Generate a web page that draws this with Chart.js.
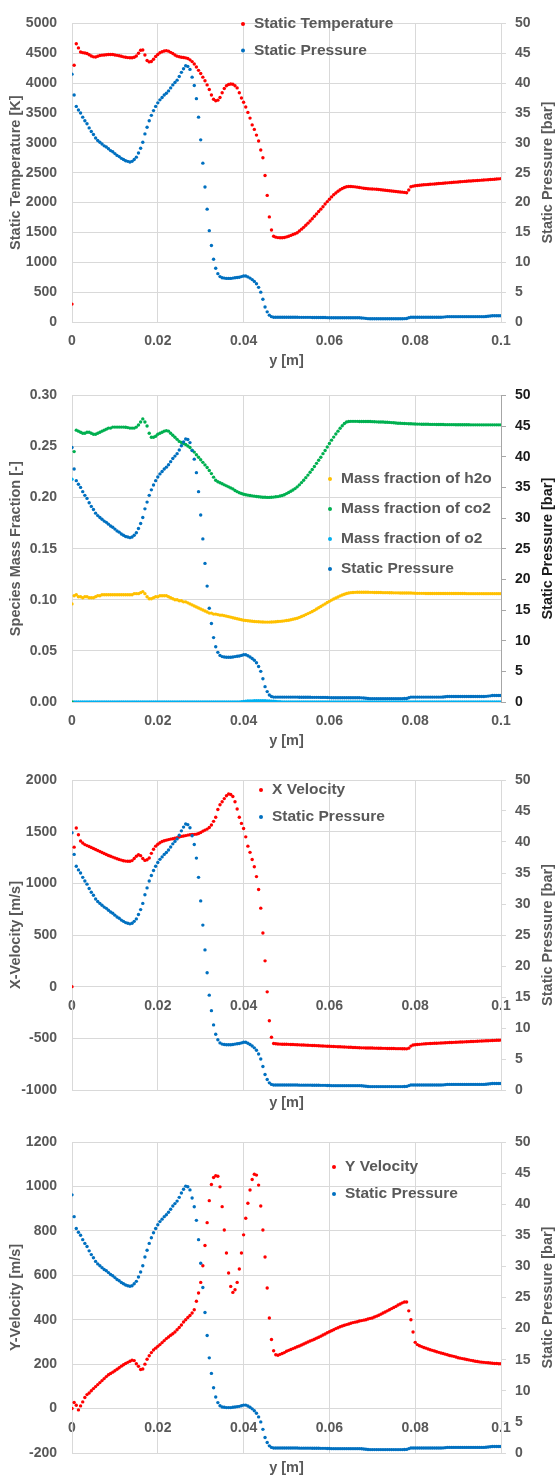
<!DOCTYPE html>
<html>
<head>
<meta charset="utf-8">
<script src="https://cdn.jsdelivr.net/npm/chart.js@4.4.0/dist/chart.umd.min.js"></script>
<style>
 body { margin: 0; background: #fff; }
 #page { position: relative; width: 556px; height: 1479px; overflow: hidden; }
 .box { position: absolute; left: 0; width: 556px; }
</style>
</head>
<body>
<div id="page">
 <div class="box" style="top:0;height:372px"><canvas id="tempChart"></canvas></div>
 <div class="box" style="top:372px;height:380px"><canvas id="speciesChart"></canvas></div>
 <div class="box" style="top:752px;height:362px"><canvas id="xVelChart"></canvas></div>
 <div class="box" style="top:1114px;height:365px"><canvas id="yVelChart"></canvas></div>
</div>
<script>
// positions across the channel [m]
var yPos = [
 0, 0.0005, 0.001, 0.0015, 0.002, 0.0025, 0.003, 0.0035, 0.004, 0.0045,
 0.005, 0.0055, 0.006, 0.0065, 0.007, 0.0075, 0.008, 0.0085, 0.009, 0.0095,
 0.01, 0.0105, 0.011, 0.0115, 0.012, 0.0125, 0.013, 0.0135, 0.014, 0.0145,
 0.015, 0.0155, 0.016, 0.0165, 0.017, 0.0175, 0.018, 0.0185, 0.019, 0.0195,
 0.02, 0.0205, 0.021, 0.0215, 0.022, 0.0225, 0.023, 0.0235, 0.024, 0.0245,
 0.025, 0.0255, 0.026, 0.0265, 0.027, 0.0275, 0.028, 0.0285, 0.029, 0.0295,
 0.03, 0.0305, 0.031, 0.0315, 0.032, 0.0325, 0.033, 0.0335, 0.034, 0.0345,
 0.035, 0.0355, 0.036, 0.0365, 0.037, 0.0375, 0.038, 0.0385, 0.039, 0.0395,
 0.04, 0.0405, 0.041, 0.0415, 0.042, 0.0425, 0.043, 0.0435, 0.044, 0.0445,
 0.045, 0.0455, 0.046, 0.0465, 0.047, 0.0475, 0.048, 0.0485, 0.049, 0.0495,
 0.05, 0.0505, 0.051, 0.0515, 0.052, 0.0525, 0.053, 0.0535, 0.054, 0.0545,
 0.055, 0.0555, 0.056, 0.0565, 0.057, 0.0575, 0.058, 0.0585, 0.059, 0.0595,
 0.06, 0.0605, 0.061, 0.0615, 0.062, 0.0625, 0.063, 0.0635, 0.064, 0.0645,
 0.065, 0.0655, 0.066, 0.0665, 0.067, 0.0675, 0.068, 0.0685, 0.069, 0.0695,
 0.07, 0.0705, 0.071, 0.0715, 0.072, 0.0725, 0.073, 0.0735, 0.074, 0.0745,
 0.075, 0.0755, 0.076, 0.0765, 0.077, 0.0775, 0.078, 0.0785, 0.079, 0.0795,
 0.08, 0.0805, 0.081, 0.0815, 0.082, 0.0825, 0.083, 0.0835, 0.084, 0.0845,
 0.085, 0.0855, 0.086, 0.0865, 0.087, 0.0875, 0.088, 0.0885, 0.089, 0.0895,
 0.09, 0.0905, 0.091, 0.0915, 0.092, 0.0925, 0.093, 0.0935, 0.094, 0.0945,
 0.095, 0.0955, 0.096, 0.0965, 0.097, 0.0975, 0.098, 0.0985, 0.099, 0.0995,
 0.1
];

// static pressure [bar], shared by all four plots
var pressure = [
 41.5, 38.0, 36.1, 35.5, 35.0, 34.3, 33.7, 33.2, 32.5, 31.9,
 31.4, 30.8, 30.4, 30.1, 29.8, 29.5, 29.3, 29.0, 28.7, 28.5,
 28.2, 27.9, 27.7, 27.4, 27.2, 27.0, 26.9, 26.8, 26.9, 27.2,
 27.6, 28.3, 29.1, 30.1, 31.5, 32.6, 33.7, 34.6, 35.4, 36.1,
 36.7, 37.2, 37.6, 38.0, 38.3, 38.7, 39.2, 39.7, 40.1, 40.5,
 41.1, 41.8, 42.4, 42.9, 42.8, 42.3, 41.0, 39.6, 37.4, 34.3,
 30.5, 26.6, 22.6, 18.9, 15.3, 12.8, 10.5, 9.0, 8.1, 7.6,
 7.4, 7.35, 7.3, 7.3, 7.3, 7.35, 7.4, 7.45, 7.5, 7.6,
 7.7, 7.7, 7.55, 7.35, 7.1, 6.8, 6.4, 5.8, 5.0, 3.8,
 2.5, 1.7, 1.15, 0.9, 0.8, 0.8, 0.8, 0.8, 0.8, 0.8,
 0.8, 0.8, 0.8, 0.8, 0.8, 0.8, 0.78, 0.78, 0.78, 0.78,
 0.78, 0.78, 0.76, 0.76, 0.76, 0.76, 0.75, 0.75, 0.75, 0.73,
 0.72, 0.7, 0.7, 0.7, 0.7, 0.7, 0.7, 0.7, 0.7, 0.7,
 0.7, 0.7, 0.7, 0.7, 0.7, 0.68, 0.65, 0.6, 0.56, 0.55,
 0.55, 0.55, 0.55, 0.55, 0.55, 0.55, 0.55, 0.55, 0.55, 0.55,
 0.55, 0.55, 0.55, 0.55, 0.55, 0.56, 0.58, 0.7, 0.8, 0.8,
 0.8, 0.8, 0.8, 0.8, 0.8, 0.8, 0.8, 0.8, 0.8, 0.8,
 0.8, 0.8, 0.8, 0.82, 0.86, 0.9, 0.9, 0.9, 0.9, 0.9,
 0.9, 0.9, 0.9, 0.9, 0.9, 0.9, 0.9, 0.9, 0.9, 0.9,
 0.9, 0.9, 0.9, 0.92, 0.96, 1.0, 1.05, 1.05, 1.05, 1.05,
 1.05
];

// static temperature [K]
var temperature = [
 300, 4300, 4660, 4590, 4520, 4510, 4505, 4495, 4475, 4455,
 4440, 4438, 4450, 4462, 4468, 4472, 4476, 4479, 4480, 4478,
 4472, 4465, 4458, 4450, 4440, 4432, 4427, 4425, 4425, 4432,
 4455, 4500, 4550, 4555, 4470, 4380, 4355, 4362, 4400, 4445,
 4480, 4508, 4525, 4538, 4544, 4535, 4515, 4495, 4472, 4452,
 4442, 4432, 4428, 4422, 4412, 4390, 4360, 4320, 4270, 4214,
 4160, 4100, 4040, 3970, 3894, 3800, 3730, 3705, 3715, 3760,
 3840, 3910, 3955, 3978, 3985, 3980, 3955, 3920, 3840, 3750,
 3680, 3600, 3510, 3414, 3300, 3225, 3130, 3030, 2880, 2750,
 2454, 2120, 1760, 1540, 1437, 1421, 1413, 1410, 1410, 1415,
 1425, 1435, 1450, 1465, 1478, 1495, 1525, 1555, 1585, 1620,
 1655, 1690, 1730, 1770, 1810, 1850, 1890, 1930, 1975, 2015,
 2055, 2095, 2130, 2160, 2190, 2215, 2236, 2252, 2265, 2268,
 2268, 2266, 2263, 2258, 2252, 2246, 2240, 2236, 2232, 2229,
 2227, 2225, 2222, 2218, 2214, 2210, 2206, 2202, 2198, 2194,
 2190, 2186, 2182, 2178, 2174, 2170, 2165, 2210, 2265, 2275,
 2282, 2285, 2290, 2294, 2297, 2300, 2303, 2306, 2309, 2312,
 2315, 2318, 2321, 2324, 2327, 2330, 2333, 2336, 2339, 2342,
 2345, 2348, 2351, 2354, 2357, 2360, 2362, 2365, 2367, 2370,
 2372, 2375, 2377, 2380, 2382, 2385, 2388, 2391, 2394, 2397,
 2400
];

// mass fractions [-]
var h2o = [
 0.096, 0.104, 0.105, 0.103, 0.103, 0.102, 0.103, 0.103, 0.102, 0.102,
 0.102, 0.103, 0.104, 0.104, 0.105, 0.105, 0.105, 0.105, 0.105, 0.105,
 0.105, 0.105, 0.105, 0.105, 0.105, 0.105, 0.105, 0.105, 0.105, 0.106,
 0.106, 0.106, 0.107, 0.108, 0.106, 0.103, 0.101, 0.101, 0.102, 0.103,
 0.103, 0.104, 0.104, 0.104, 0.104, 0.103, 0.102, 0.101, 0.100, 0.100,
 0.099, 0.099, 0.098, 0.098, 0.097, 0.096, 0.095, 0.094, 0.093, 0.092,
 0.091, 0.090, 0.089, 0.088, 0.087, 0.087, 0.086, 0.086, 0.0855, 0.085,
 0.085, 0.0845, 0.084, 0.0835, 0.083, 0.0825, 0.082, 0.0815, 0.081, 0.0805,
 0.080, 0.0797, 0.0795, 0.0792, 0.079, 0.0788, 0.0786, 0.0785, 0.0784, 0.0783,
 0.0782, 0.0782, 0.0782, 0.0783, 0.0784, 0.0785, 0.0787, 0.0789, 0.0791, 0.0794,
 0.0797, 0.080, 0.0805, 0.081, 0.0815, 0.082, 0.0828, 0.0836, 0.0845, 0.0855,
 0.0865, 0.0875, 0.0885, 0.0897, 0.091, 0.0922, 0.0935, 0.0948, 0.096, 0.0973,
 0.0985, 0.0997, 0.1008, 0.1018, 0.1028, 0.1038, 0.1047, 0.1055, 0.1062, 0.1067,
 0.107, 0.1072, 0.1073, 0.1074, 0.1074, 0.1074, 0.1074, 0.1074, 0.1074, 0.1073,
 0.1073, 0.1072, 0.1072, 0.1071, 0.1071, 0.107, 0.107, 0.107, 0.1069, 0.1069,
 0.1068, 0.1068, 0.1068, 0.1067, 0.1067, 0.1067, 0.1066, 0.1066, 0.1066, 0.1065,
 0.1064, 0.1063, 0.1063, 0.1063, 0.1063, 0.1062, 0.1062, 0.1062, 0.1062, 0.1062,
 0.1062, 0.1062, 0.1062, 0.1061, 0.1061, 0.1061, 0.1061, 0.1061, 0.1061, 0.1061,
 0.1061, 0.1061, 0.1061, 0.1061, 0.106, 0.106, 0.106, 0.106, 0.106, 0.106,
 0.106, 0.106, 0.106, 0.106, 0.106, 0.106, 0.106, 0.106, 0.106, 0.106,
 0.106
];

var co2 = [
 0, 0.245, 0.266, 0.265, 0.264, 0.263, 0.263, 0.264, 0.264, 0.263,
 0.262, 0.262, 0.263, 0.264, 0.265, 0.266, 0.267, 0.268, 0.268, 0.269,
 0.269, 0.269, 0.269, 0.269, 0.269, 0.2688, 0.2685, 0.268, 0.268, 0.268,
 0.269, 0.271, 0.274, 0.277, 0.274, 0.270, 0.263, 0.259, 0.259, 0.260,
 0.262, 0.263, 0.264, 0.265, 0.2655, 0.265, 0.263, 0.261, 0.259, 0.257,
 0.255, 0.254, 0.253, 0.252, 0.2505, 0.249, 0.2465, 0.2445, 0.242, 0.2395,
 0.237, 0.2345, 0.232, 0.2295, 0.2265, 0.2235, 0.220, 0.217, 0.2155, 0.2145,
 0.2135, 0.2125, 0.2115, 0.2105, 0.2095, 0.2085, 0.207, 0.2058, 0.2048, 0.204,
 0.2033, 0.2028, 0.2024, 0.202, 0.2017, 0.2014, 0.2011, 0.2008, 0.2006, 0.2004,
 0.2003, 0.2002, 0.2002, 0.2003, 0.2005, 0.2008, 0.201, 0.2015, 0.202, 0.2028,
 0.2039, 0.205, 0.2062, 0.2075, 0.2088, 0.2105, 0.2125, 0.2147, 0.217, 0.2195,
 0.222, 0.2248, 0.2275, 0.2305, 0.2335, 0.2365, 0.2395, 0.243, 0.2461, 0.2495,
 0.253, 0.2562, 0.2592, 0.2622, 0.265, 0.2678, 0.2703, 0.2725, 0.274, 0.2745,
 0.2746, 0.2746, 0.2746, 0.2746, 0.2745, 0.2745, 0.2745, 0.2745, 0.2744, 0.2744,
 0.2743, 0.2742, 0.2741, 0.274, 0.274, 0.2739, 0.2738, 0.2737, 0.2736, 0.2734,
 0.2732, 0.273, 0.2728, 0.2727, 0.2726, 0.2725, 0.2724, 0.2723, 0.2722, 0.2721,
 0.272, 0.2719, 0.2719, 0.2718, 0.2718, 0.2717, 0.2717, 0.2716, 0.2716, 0.2716,
 0.2715, 0.2715, 0.2715, 0.2715, 0.2714, 0.2714, 0.2714, 0.2714, 0.2714, 0.2713,
 0.2713, 0.2713, 0.2713, 0.2713, 0.2713, 0.2713, 0.2712, 0.2712, 0.2712, 0.2712,
 0.2712, 0.2712, 0.2712, 0.2712, 0.2712, 0.2712, 0.2712, 0.2712, 0.2712, 0.2712,
 0.2712
];

var o2 = [
 0.218, 0, 0, 0, 0, 0, 0, 0, 0, 0,
 0, 0, 0, 0, 0, 0, 0, 0, 0, 0,
 0, 0, 0, 0, 0, 0, 0, 0, 0, 0,
 0, 0, 0, 0, 0, 0, 0, 0, 0, 0,
 0, 0, 0, 0, 0, 0, 0, 0, 0, 0,
 0, 0, 0, 0, 0, 0, 0, 0, 0, 0,
 0, 0, 0, 0, 0, 0, 0, 0, 0, 0,
 0, 0, 0, 0, 0, 0, 0, 0, 0, 0.0004,
 0.0006, 0.0008, 0.001, 0.001, 0.0011, 0.0012, 0.0012, 0.0012, 0.0012, 0.0012,
 0.0012, 0.0011, 0.001, 0.0009, 0.0007, 0.0005, 0.0003, 0.0002, 0, 0,
 0, 0, 0, 0, 0, 0, 0, 0, 0, 0,
 0, 0, 0, 0, 0, 0, 0, 0, 0, 0,
 0, 0, 0, 0, 0, 0, 0, 0, 0, 0,
 0, 0, 0, 0, 0, 0, 0, 0, 0, 0,
 0, 0, 0, 0, 0, 0, 0, 0, 0, 0,
 0, 0, 0, 0, 0, 0, 0, 0, 0, 0,
 0, 0, 0, 0, 0, 0, 0, 0, 0, 0,
 0, 0, 0, 0, 0, 0, 0, 0, 0, 0,
 0, 0, 0, 0, 0, 0, 0, 0, 0, 0,
 0, 0, 0, 0, 0, 0, 0, 0, 0, 0,
 0
];

// velocities [m/s]
var xVelocity = [
 0, 1350, 1535, 1470, 1410, 1390, 1375, 1365, 1357, 1347,
 1337, 1327, 1318, 1308, 1298, 1289, 1279, 1270, 1262, 1254,
 1246, 1238, 1231, 1225, 1219, 1215, 1213, 1214, 1220, 1240,
 1262, 1276, 1268, 1240, 1222, 1228, 1245, 1290, 1330, 1360,
 1378, 1393, 1405, 1412, 1418, 1423, 1428, 1432, 1437, 1442,
 1448, 1454, 1458, 1462, 1467, 1470, 1472, 1474, 1476, 1482,
 1492, 1505, 1515, 1525, 1540, 1565, 1600, 1640, 1714, 1760,
 1790, 1820, 1848, 1864, 1860, 1841, 1790, 1720, 1640, 1580,
 1530, 1450, 1360, 1300, 1230, 1160, 1065, 940, 760, 520,
 250, -50, -330, -490, -550, -553, -555, -556, -557, -557,
 -557, -558, -559, -560, -561, -562, -563, -564, -565, -566,
 -567, -568, -569, -570, -571, -572, -573, -574, -575, -576,
 -577, -578, -579, -580, -581, -582, -583, -584, -585, -586,
 -587, -588, -589, -590, -591, -592, -592, -593, -593, -594,
 -594, -595, -595, -596, -596, -597, -597, -598, -598, -599,
 -599, -600, -600, -600, -601, -601, -602, -595, -575, -565,
 -562, -560, -558, -556, -554, -552, -551, -550, -549, -548,
 -547, -546, -545, -544, -543, -542, -541, -540, -539, -538,
 -537, -536, -535, -534, -533, -532, -531, -530, -529, -528,
 -527, -526, -525, -524, -523, -522, -521, -520, -519, -518,
 -517
];

var yVelocity = [
 0, 27, 15, -6, 12, 30, 50, 63, 70, 80,
 90, 99, 108, 117, 126, 135, 144, 152, 158, 164,
 170, 177, 184, 191, 197, 203, 208, 213, 218, 216,
 202, 190, 176, 178, 200, 222, 238, 252, 264, 272,
 280, 288, 297, 306, 315, 322, 330, 337, 345, 355,
 365, 376, 390, 400, 410, 419, 430, 445, 483, 520,
 568, 643, 734, 837, 936, 1009, 1040, 1048, 1046, 998,
 909, 804, 700, 610, 550, 523, 535, 568, 628, 700,
 782, 857, 924, 984, 1031, 1055, 1051, 1006, 912, 804,
 682, 543, 408, 311, 260, 242, 240, 244, 248, 252,
 258, 262, 266, 270, 274, 278, 282, 286, 291, 295,
 300, 304, 308, 312, 317, 321, 326, 331, 336, 341,
 346, 350, 355, 360, 364, 368, 372, 375, 378, 381,
 384, 387, 389, 391, 394, 396, 398, 400, 403, 406,
 408, 412, 416, 420, 425, 430, 435, 440, 445, 450,
 455, 460, 466, 471, 476, 480, 480, 440, 400, 345,
 298, 288, 283, 279, 275, 272, 268, 265, 262, 259,
 256, 253, 250, 248, 245, 242, 239, 237, 235, 232,
 229, 227, 225, 223, 221, 219, 217, 215, 213, 212,
 210, 209, 208, 207, 206, 205, 204, 203, 203, 202,
 202
];

var xTickLabels = ["0", "0.02", "0.04", "0.06", "0.08", "0.1"];

var red = "#ff0000";
var blue = "#0070c0";
var gridColor = "#d9d9d9";
var labelGray = "#595959";
var fontFamily = "'Liberation Sans', Arial, sans-serif";

Chart.defaults.font.family = fontFamily;

var tickFont = { size: 14, weight: "bold" };
var titleFont = { size: 14.5, weight: "bold" };

function points(values) {
 return yPos.map(function (x, i) {
  return { x: x, y: values[i] };
 });
}

function series(label, values, color, axis, order) {
 return {
  label: label,
  data: points(values),
  yAxisID: axis,
  backgroundColor: color,
  pointBackgroundColor: color,
  pointBorderWidth: 0,
  pointRadius: 1.7,
  pointHoverRadius: 1.7,
  showLine: false,
  order: order,
 };
}

// legend + right axis title drawn inside the plot, excel style
var sideLegend = {
 id: "sideLegend",
 afterDraw: function (chart, args, opts) {
  var ctx = chart.ctx;
  var area = chart.chartArea;
  ctx.save();
  ctx.font = "bold 15.5px " + fontFamily;
  ctx.textBaseline = "middle";
  ctx.textAlign = "left";
  chart.data.datasets.forEach(function (ds, i) {
   var y = opts.y + i * opts.gap;
   ctx.fillStyle = ds.backgroundColor;
   ctx.beginPath();
   ctx.arc(opts.x, y, 2, 0, Math.PI * 2);
   ctx.fill();
   ctx.fillStyle = labelGray;
   ctx.fillText(ds.label, opts.x + 11, y);
  });

  ctx.translate(opts.titleX, (area.top + area.bottom) / 2);
  ctx.rotate(-Math.PI / 2);
  ctx.textAlign = "center";
  ctx.font = "bold 14.5px " + fontFamily;
  ctx.fillStyle = opts.titleColor;
  ctx.fillText("Static Pressure [bar]", 0, 0);
  ctx.restore();
 },
};

function leftAxis(min, max, step, title, decimals) {
 return {
  position: "left",
  min: min,
  max: max,
  ticks: {
   stepSize: step,
   color: labelGray,
   font: tickFont,
   padding: 15,
   callback: function (value) {
    return value.toFixed(decimals);
   },
  },
  grid: { color: gridColor, drawTicks: false },
  border: { color: gridColor },
  title: {
   display: true,
   text: title,
   color: labelGray,
   font: titleFont,
   padding: { top: 7, bottom: 0 },
  },
  afterFit: function (scale) {
   scale.width = 72;
  },
 };
}

function rightAxis(labelColor, lineColor) {
 return {
  position: "right",
  min: 0,
  max: 50,
  ticks: { stepSize: 5, color: labelColor, font: tickFont, padding: 9 },
  grid: { drawOnChartArea: false, color: lineColor, tickLength: 5 },
  border: { color: lineColor },
  afterFit: function (scale) {
   scale.width = 55;
  },
 };
}

function xAxis(atZero) {
 var axis = {
  type: "linear",
  min: 0,
  max: 0.1,
  ticks: {
   stepSize: 0.02,
   color: labelGray,
   font: tickFont,
   padding: 11,
   maxRotation: 0,
   callback: function (value) {
    return xTickLabels[Math.round(value / 0.02)];
   },
  },
  grid: { color: gridColor, drawTicks: false },
  border: { color: gridColor },
 };
 if (atZero) {
  axis.position = { y: 0 };
 } else {
  axis.position = "bottom";
  axis.title = {
   display: true,
   text: "y [m]",
   color: labelGray,
   font: titleFont,
   padding: { top: 0, bottom: 2 },
  };
  axis.afterFit = function (scale) {
   scale.height = 50;
  };
 }
 return axis;
}

// title-only bottom axis for the plots whose x axis crosses at y = 0
function titleAxis(height) {
 return {
  type: "linear",
  position: "bottom",
  min: 0,
  max: 0.1,
  ticks: { display: false },
  grid: { display: false, drawTicks: false },
  border: { display: false },
  title: {
   display: true,
   text: "y [m]",
   color: labelGray,
   font: titleFont,
   padding: { top: 0, bottom: 2 },
  },
  afterFit: function (scale) {
   scale.height = height;
  },
 };
}

function makeChart(id, datasets, scales, padTop, legend) {
 new Chart(document.getElementById(id), {
  type: "scatter",
  data: { datasets: datasets },
  options: {
   responsive: true,
   maintainAspectRatio: false,
   animation: false,
   layout: { padding: { top: padTop, left: 0, right: 0, bottom: 0 } },
   scales: scales,
   plugins: {
    legend: { display: false },
    tooltip: { enabled: false },
    sideLegend: legend,
   },
  },
  plugins: [sideLegend],
 });
}

makeChart(
 "tempChart",
 [
  series("Static Temperature", temperature, red, "y", 1),
  series("Static Pressure", pressure, blue, "y1", 0),
 ],
 {
  x: xAxis(false),
  y: leftAxis(0, 5000, 500, "Static Temperature [K]", 0),
  y1: rightAxis(labelGray, gridColor),
 },
 9,
 { x: 243, y: 24, gap: 26.5, titleX: 548, titleColor: labelGray }
);

makeChart(
 "speciesChart",
 [
  series("Mass fraction of h2o", h2o, "#ffc000", "y", 1),
  series("Mass fraction of co2", co2, "#00b050", "y", 1),
  series("Mass fraction of o2", o2, "#00b0f0", "y", 1),
  series("Static Pressure", pressure, blue, "y1", 0),
 ],
 {
  x: xAxis(false),
  y: leftAxis(0, 0.3, 0.05, "Species Mass Fraction [-]", 2),
  y1: rightAxis("#1a1a1a", "#a6a6a6"),
 },
 19,
 { x: 330, y: 107, gap: 30, titleX: 548, titleColor: "#1a1a1a" }
);

makeChart(
 "xVelChart",
 [
  series("X Velocity", xVelocity, red, "y", 1),
  series("Static Pressure", pressure, blue, "y1", 0),
 ],
 {
  x: xAxis(true),
  xt: titleAxis(24),
  y: leftAxis(-1000, 2000, 500, "X-Velocity [m/s]", 0),
  y1: rightAxis(labelGray, gridColor),
 },
 28,
 { x: 261, y: 38, gap: 27, titleX: 548, titleColor: labelGray }
);

makeChart(
 "yVelChart",
 [
  series("Y Velocity", yVelocity, red, "y", 1),
  series("Static Pressure", pressure, blue, "y1", 0),
 ],
 {
  x: xAxis(true),
  xt: titleAxis(26),
  y: leftAxis(-200, 1200, 200, "Y-Velocity [m/s]", 0),
  y1: rightAxis(labelGray, gridColor),
 },
 28,
 { x: 334, y: 53, gap: 27, titleX: 548, titleColor: labelGray }
);
</script>
</body>
</html>
